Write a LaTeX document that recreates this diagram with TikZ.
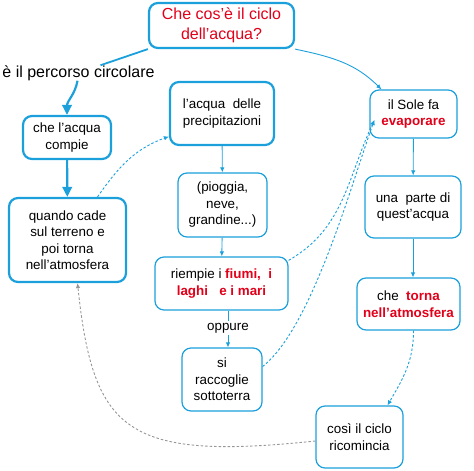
\documentclass[tikz,border=0pt]{standalone}
\usepackage{fontspec}
\setmainfont{Liberation Sans}
\usetikzlibrary{arrows.meta}
\definecolor{cmapblue}{RGB}{27,160,220}
\definecolor{cmapred}{RGB}{226,0,26}
\definecolor{cmapgray}{RGB}{150,150,150}
\newcommand{\redbf}[1]{\textcolor{cmapred}{\textbf{#1}}}

\begin{document}
\begin{tikzpicture}[x=1pt,y=1pt,every node/.style={align=center,inner sep=0pt,font=\fontsize{13.4}{16.5}\selectfont},
concept/.style={draw=cmapblue,line width=1.2pt,rounded corners=9pt,fill=white},
keyconcept/.style={concept,line width=2.2pt},
link/.style={cmapblue,line width=0.9pt,-{Latex[length=5pt,width=4.5pt]}},
dlink/.style={link,dash pattern=on 2.5pt off 2pt},
flow/.style={cmapblue,line width=2.2pt,-{Triangle[length=10pt,width=9.5pt]}}]
\useasboundingbox (0,0) rectangle (474,471);
\node[keyconcept,minimum width=145pt,minimum height=45pt,text=cmapred,font=\fontsize{16}{19.5}\selectfont] (title) at (221.5,445.5) {Che cos’è il ciclo\\dell’acqua?};
\node[font=\fontsize{16}{19.5}\selectfont] (percorso) at (78.5,398) {è il percorso circolare};
\node[keyconcept,minimum width=88pt,minimum height=43pt] (compie) at (67,333.5) {che l’acqua\\compie};
\node[keyconcept,minimum width=117pt,minimum height=84pt] (quando) at (67.5,231) {quando cade\\sul terreno e\\poi torna\\nell’atmosfera};
\node[keyconcept,minimum width=104pt,minimum height=63pt] (precip) at (222,357.5) {l’acqua \ delle\\precipitazioni};
\node[concept,minimum width=89pt,minimum height=64pt] (pioggia) at (222.5,266) {(pioggia,\\neve,\\grandine...)};
\node[concept,minimum width=133pt,minimum height=53pt] (riempie) at (221.5,187.5) {riempie i \redbf{fiumi, \ i}\\\redbf{laghi \ \ e i mari}};
\node[inner sep=2pt] (oppure) at (228,143) {oppure};
\node[concept,minimum width=80pt,minimum height=63pt] (raccoglie) at (222,91.5) {si\\raccoglie\\sottoterra};
\node[concept,minimum width=87pt,minimum height=48pt] (sole) at (413.5,357) {il Sole fa\\\redbf{evaporare}};
\node[concept,minimum width=96pt,minimum height=62pt] (parte) at (413,264) {una \ parte di\\quest’acqua};
\node[concept,minimum width=103pt,minimum height=52pt] (torna) at (408.5,167) {che \ \redbf{torna}\\\redbf{nell’atmosfera}};
\node[concept,minimum width=87pt,minimum height=62pt] (cosi) at (359.5,34) {così il ciclo\\ricomincia};
\draw [cmapblue, line width=1.8pt] (title.south west) -- ([xshift=22pt]percorso.north);
\draw [flow] ([xshift=-1pt]percorso.south) to [out=-100, in=90] (compie.north);
\draw [flow] (compie) -- (quando);
\draw [link] (title.south east) to [out=-12, in=135] ([xshift=12pt]sole.north west);
\draw [dlink] ([xshift=30pt]quando.north) to [out=55, in=200] ([yshift=-23pt]precip.west);
\draw [link] (precip) -- (pioggia);
\draw [link] (pioggia) -- (riempie);
\draw [cmapblue, line width=0.9pt] (riempie.south -| oppure) -- (oppure);
\draw [link] (oppure) -- (raccoglie.north -| oppure);
\draw [dlink] ([yshift=-4pt]riempie.north east) to [out=30, in=245] ([xshift=5pt, yshift=-6pt]sole.west);
\draw [dlink] ([yshift=13pt]raccoglie.east) to [out=38, in=250, looseness=0.6] ([xshift=5pt, yshift=-6pt]sole.west);
\draw [link] (sole) -- (parte);
\draw [link] (parte.south) -- (parte.south |- torna.north);
\draw [dlink] ([xshift=5pt]torna.south) to [out=-90, in=60] ([xshift=28pt]cosi.north);
\draw [dlink, cmapgray] ([yshift=-4pt]cosi.west) to [out=186, in=-84, out distance=190pt, in distance=150pt] ([xshift=10pt]quando.south);
\end{tikzpicture}
\end{document}
